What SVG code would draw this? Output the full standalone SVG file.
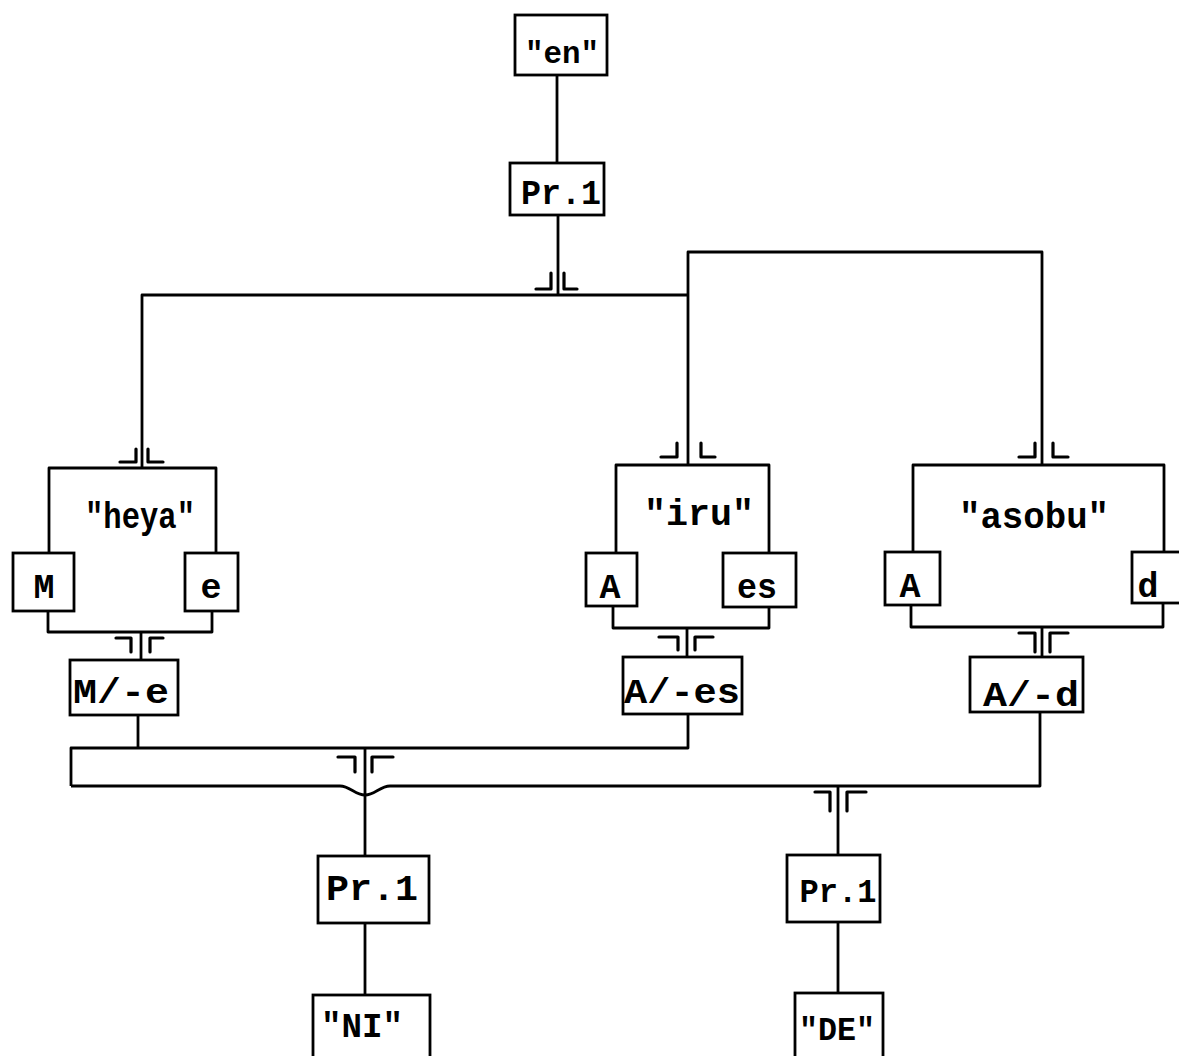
<svg xmlns="http://www.w3.org/2000/svg" width="1179" height="1056" viewBox="0 0 1179 1056">
<style>
  .bx{fill:none;stroke:#000;stroke-width:2.8}
  .ln{fill:none;stroke:#000;stroke-width:2.8;stroke-linejoin:round}
  .mk{fill:none;stroke:#000;stroke-width:3.2;stroke-linejoin:round;stroke-linecap:round}
  text{font-family:"Liberation Mono","Courier New",monospace;font-weight:bold;font-size:33px;text-anchor:middle;fill:#000}
</style>
<rect width="1179" height="1056" fill="#fff"/>

<g id="connectors">
  <path class="ln" d="M557,75 V163"/>
  <path class="ln" d="M558,215 V295"/>
  <path class="ln" d="M142,468 V295 H688"/>
  <path class="ln" d="M688,465 V252 H1042 V465"/>
  <path class="ln" d="M141,632 V660"/>
  <path class="ln" d="M687,628 V657"/>
  <path class="ln" d="M1042,627 V657"/>
  <path class="ln" d="M138,715 V748"/>
  <path class="ln" d="M71,786 V748 H688 V714"/>
  <path class="ln" d="M71,786 H340 C350,786 355,795 365,795 C375,795 380,786 390,786 H1040 V712"/>
  <path class="ln" d="M365,748 V856"/>
  <path class="ln" d="M838,785 V855"/>
  <path class="ln" d="M365,923 V995"/>
  <path class="ln" d="M838,922 V993"/>
  <!-- junction marks -->
  <path class="mk" d="M551,273 V289 H536 M564,273 V289 H577"/>
  <path class="mk" d="M136,449 V462 H120 M148,449 V462 H163"/>
  <path class="mk" d="M677,443 V457 H661 M701,443 V457 H715"/>
  <path class="mk" d="M1035,443 V457 H1019 M1053,443 V457 H1068"/>
  <path class="mk" d="M116,638 H131 V652 M150,652 V638 H163"/>
  <path class="mk" d="M659,637 H678 V650 M695,650 V637 H713"/>
  <path class="mk" d="M1019,633 H1035 V652 M1050,652 V633 H1068"/>
  <path class="mk" d="M338,757 H355 V772 M372,772 V757 H393"/>
  <path class="mk" d="M815,792 H830 V811 M847,811 V792 H866"/>
</g>

<g id="node-en">
  <rect class="bx" x="515" y="15" width="92" height="60"/>
  <text x="562" y="63" style="font-size:32px" textLength="74" lengthAdjust="spacingAndGlyphs">"en"</text>
</g>
<g id="node-pr1-top">
  <rect class="bx" x="510" y="163" width="94" height="52"/>
  <text x="561" y="204" style="font-size:35px" textLength="80" lengthAdjust="spacingAndGlyphs">Pr.1</text>
</g>

<g id="node-heya">
  <path class="ln" d="M49,553 V468 H216 V553"/>
  <text x="140" y="528" style="font-size:37px" textLength="110" lengthAdjust="spacingAndGlyphs">"heya"</text>
  <g id="node-heya-M">
    <rect class="bx" x="13" y="553" width="61" height="58"/>
    <text x="44" y="598" style="font-size:35px">M</text>
  </g>
  <g id="node-heya-e">
    <rect class="bx" x="185" y="553" width="53" height="58"/>
    <text x="211" y="598" style="font-size:35px">e</text>
  </g>
  <path class="ln" d="M48,611 V632 H212 V611"/>
</g>

<g id="node-iru">
  <path class="ln" d="M616,553 V465 H769 V553"/>
  <text x="699" y="525" style="font-size:37px" textLength="110" lengthAdjust="spacingAndGlyphs">"iru"</text>
  <g id="node-iru-A">
    <rect class="bx" x="586" y="553" width="51" height="53"/>
    <text x="610" y="598" style="font-size:35px">A</text>
  </g>
  <g id="node-iru-es">
    <rect class="bx" x="723" y="553" width="73" height="54"/>
    <text x="757" y="598" style="font-size:35px" textLength="40" lengthAdjust="spacingAndGlyphs">es</text>
  </g>
  <path class="ln" d="M613,606 V628 H769 V607"/>
</g>

<g id="node-asobu">
  <path class="ln" d="M913,552 V465 H1164 V552"/>
  <text x="1034" y="528" style="font-size:37px" textLength="150" lengthAdjust="spacingAndGlyphs">"asobu"</text>
  <g id="node-asobu-A">
    <rect class="bx" x="885" y="552" width="55" height="53"/>
    <text x="910" y="597" style="font-size:35px">A</text>
  </g>
  <g id="node-asobu-d">
    <rect class="bx" x="1132" y="552" width="60" height="51"/>
    <text x="1148" y="597" style="font-size:35px">d</text>
  </g>
  <path class="ln" d="M911,605 V627 H1163 V603"/>
</g>

<g id="node-M-e">
  <rect class="bx" x="70" y="660" width="108" height="55"/>
  <text x="121" y="703" style="font-size:35px" textLength="96" lengthAdjust="spacingAndGlyphs">M/-e</text>
</g>
<g id="node-A-es">
  <rect class="bx" x="623" y="657" width="119" height="57"/>
  <text x="682" y="703" style="font-size:35px" textLength="116" lengthAdjust="spacingAndGlyphs">A/-es</text>
</g>
<g id="node-A-d">
  <rect class="bx" x="970" y="657" width="113" height="55"/>
  <text x="1031" y="706" style="font-size:35px" textLength="96" lengthAdjust="spacingAndGlyphs">A/-d</text>
</g>

<g id="node-pr1-left">
  <rect class="bx" x="318" y="856" width="111" height="67"/>
  <text x="372" y="900" style="font-size:37px" textLength="92" lengthAdjust="spacingAndGlyphs">Pr.1</text>
</g>
<g id="node-pr1-right">
  <rect class="bx" x="787" y="855" width="93" height="67"/>
  <text x="838" y="902" style="font-size:34px" textLength="77" lengthAdjust="spacingAndGlyphs">Pr.1</text>
</g>
<g id="node-NI">
  <rect class="bx" x="313" y="995" width="117" height="80"/>
  <text x="362" y="1037" style="font-size:35px" textLength="82" lengthAdjust="spacingAndGlyphs">"NI"</text>
</g>
<g id="node-DE">
  <rect class="bx" x="795" y="993" width="88" height="80"/>
  <text x="837" y="1040" style="font-size:34px" textLength="76" lengthAdjust="spacingAndGlyphs">"DE"</text>
</g>
</svg>
